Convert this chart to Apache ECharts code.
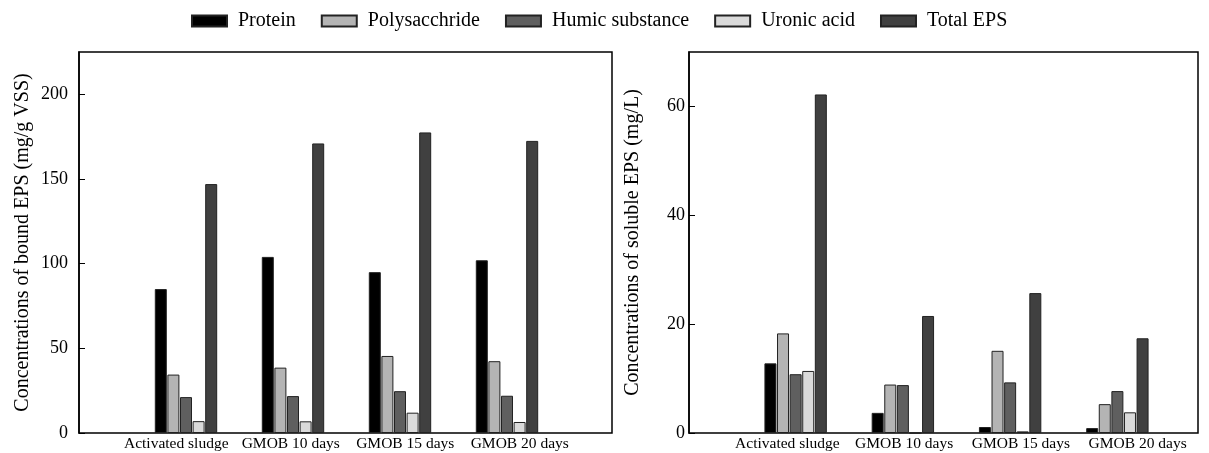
<!DOCTYPE html>
<html>
<head>
<meta charset="utf-8">
<script src="https://cdn.jsdelivr.net/npm/echarts@6/dist/echarts.min.js"></script>
<style>
  html, body { margin: 0; padding: 0; background: #fff; }
  #chart { width: 1209px; height: 453px; }
</style>
</head>
<body>
<div id="chart"></div>
<script>
// categories and series names
var categories = ['Activated sludge', 'GMOB 10 days', 'GMOB 15 days', 'GMOB 20 days'];
var seriesNames = ['Protein', 'Polysacchride', 'Humic substance', 'Uronic acid', 'Total EPS'];

// bound EPS (mg/g VSS)
var boundProtein = [85, 104, 95, 102];
var boundPolysaccharide = [34.5, 38.6, 45.5, 42.4];
var boundHumic = [21.2, 21.8, 24.7, 22];
var boundUronic = [7, 6.9, 12, 6.5];
var boundTotal = [147, 171, 177.5, 172.5];

// soluble EPS (mg/L)
var solubleProtein = [12.8, 3.7, 1.1, 0.9];
var solublePolysaccharide = [18.3, 8.9, 15.1, 5.3];
var solubleHumic = [10.8, 8.8, 9.3, 7.7];
var solubleUronic = [11.4, 0, 0.3, 3.8];
var solubleTotal = [62.2, 21.5, 25.7, 17.4];

var colors = ['#000000', '#b4b4b4', '#5f5f5f', '#dadada', '#404040'];
var FONT = '"Liberation Serif", "Times New Roman", serif';

var chart = echarts.init(document.getElementById('chart'));

var boundData = [boundProtein, boundPolysaccharide, boundHumic, boundUronic, boundTotal];
var solubleData = [solubleProtein, solublePolysaccharide, solubleHumic, solubleUronic, solubleTotal];

// y axis of the box (visible)
function boxY(grid, max, name, gap, margin) {
    return {
        type: 'value', gridIndex: grid, min: 0, max: max,
        interval: max > 100 ? 50 : 20,
        name: name, nameLocation: 'middle', nameGap: gap,
        nameTextStyle: { fontFamily: FONT, fontSize: 20, color: '#000' },
        axisLine: { show: true, lineStyle: { color: '#000', width: 1.5 } },
        axisTick: { show: true, inside: true, length: 6, lineStyle: { color: '#000' } },
        axisLabel: { fontFamily: FONT, fontSize: 18, color: '#000', margin: margin, showMaxLabel: false },
        splitLine: { show: false }
    };
}
function hiddenY(grid, max) {
    return { type: 'value', gridIndex: grid, min: 0, max: max, show: false, splitLine: { show: false } };
}
function hiddenX(grid) {
    return { type: 'category', gridIndex: grid, data: categories, show: false };
}
function labelX(grid) {
    return {
        type: 'category', gridIndex: grid, data: categories,
        axisLine: { show: false }, axisTick: { show: false },
        axisLabel: { fontFamily: FONT, fontSize: 15.5, color: '#000', margin: 3, interval: 0 }
    };
}

var series = [];
function addBars(dataSet, axisIndex) {
    for (var i = 0; i < seriesNames.length; i++) {
        series.push({
            name: seriesNames[i],
            type: 'bar',
            xAxisIndex: axisIndex, yAxisIndex: axisIndex,
            data: dataSet[i],
            barWidth: 12,
            barGap: '5%',
            itemStyle: { color: colors[i], borderColor: '#222', borderWidth: 1 }
        });
    }
}
addBars(boundData, 1);
addBars(solubleData, 4);

var option = {
    animation: false,
    legend: {
        data: seriesNames,
        top: 6, left: 186,
        itemWidth: 35, itemHeight: 11, itemGap: 25,
        icon: 'rect',
        textStyle: { fontFamily: FONT, fontSize: 20, color: '#000', padding: [0, 0, 0, 6] }
    },
    grid: [
        // left panel: box, bars, labels
        { left: 79, right: 1209 - 612, top: 52, bottom: 20, show: true, borderColor: '#000', borderWidth: 1.5 },
        { left: 132.5, right: 1209 - 560.5, top: 52, bottom: 20 },
        { left: 119, right: 1209 - 577, top: 52, bottom: 20 },
        // right panel: box, bars, labels
        { left: 689, right: 1209 - 1198, top: 52, bottom: 20, show: true, borderColor: '#000', borderWidth: 1.5 },
        { left: 742, right: 1209 - 1171, top: 52, bottom: 20 },
        { left: 729, right: 1209 - 1196, top: 52, bottom: 20 }
    ],
    xAxis: [hiddenX(0), hiddenX(1), labelX(2), hiddenX(3), hiddenX(4), labelX(5)],
    yAxis: [
        boxY(0, 225, 'Concentrations of bound EPS (mg/g VSS)', 46, 11),
        hiddenY(1, 225),
        hiddenY(2, 225),
        boxY(3, 70, 'Concentrations of soluble EPS (mg/L)', 46, 4),
        hiddenY(4, 70),
        hiddenY(5, 70)
    ],
    series: series
};

chart.setOption(option);
</script>
</body>
</html>
